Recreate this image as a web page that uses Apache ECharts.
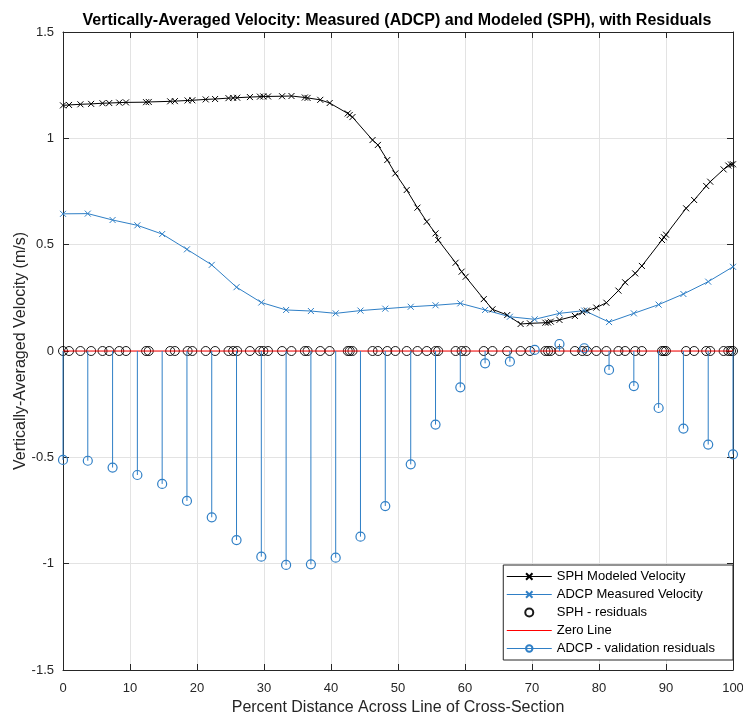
<!DOCTYPE html>
<html>
<head>
<meta charset="utf-8">
<script src="https://cdn.jsdelivr.net/npm/echarts@6/dist/echarts.min.js"></script>
<style>
html,body{margin:0;padding:0;background:#fff;}
#chart{width:743px;height:719px;}
</style>
</head>
<body>
<div id="chart"></div>
<script>
// ---- data ----
const sphX = [0, 0.9, 2.6, 4.2, 5.9, 6.9, 8.4, 9.4, 12.4, 12.8, 16.0, 16.7, 18.6, 19.3, 21.3, 22.7, 24.7, 25.4, 26.0, 27.9,
  29.4, 29.9, 30.6, 32.7, 34.1, 36.1, 36.5, 38.4, 39.8, 42.5, 42.8, 43.2, 46.2, 47.0, 48.4, 49.6, 51.3, 52.9, 54.3, 55.6,
  56.0, 58.6, 59.5, 60.1, 62.8, 64.1, 66.3, 68.3, 69.7, 72.0, 72.4, 72.8, 74.1, 76.4, 77.5, 78.2, 79.6, 81.1, 82.9, 83.9,
  85.4, 86.4, 89.4, 89.7, 90.0, 93.0, 94.2, 96.0, 96.6, 98.6, 99.3, 99.7, 100];
const sphV = [1.155, 1.157, 1.160, 1.162, 1.165, 1.166, 1.168, 1.169, 1.170, 1.171, 1.174, 1.175, 1.178, 1.179, 1.183, 1.185, 1.189, 1.190, 1.191, 1.194,
  1.196, 1.197, 1.197, 1.198, 1.199, 1.192, 1.190, 1.181, 1.166, 1.117, 1.110, 1.100, 0.992, 0.969, 0.898, 0.835, 0.757, 0.674, 0.608, 0.553,
  0.522, 0.415, 0.373, 0.349, 0.244, 0.196, 0.169, 0.127, 0.130, 0.133, 0.134, 0.138, 0.146, 0.165, 0.182, 0.190, 0.204, 0.227, 0.284, 0.323,
  0.365, 0.400, 0.522, 0.535, 0.547, 0.671, 0.710, 0.776, 0.796, 0.854, 0.872, 0.877, 0.878];
const adcpX = [0, 3.7, 7.4, 11.1, 14.8, 18.5, 22.2, 25.9, 29.6, 33.3, 37.0, 40.7, 44.4, 48.1, 51.9, 55.6, 59.3, 63.0, 66.7, 70.4,
  74.1, 77.8, 81.5, 85.2, 88.9, 92.6, 96.3, 100];
const adcpV = [0.645, 0.646, 0.616, 0.591, 0.550, 0.478, 0.405, 0.300, 0.228, 0.193, 0.188, 0.177, 0.190, 0.199, 0.208, 0.215, 0.224, 0.193, 0.161, 0.149,
  0.177, 0.190, 0.136, 0.177, 0.218, 0.268, 0.326, 0.396];
const adcpResid = [-0.512, -0.516, -0.548, -0.583, -0.625, -0.705, -0.782, -0.889, -0.967, -1.006, -1.003, -0.972, -0.873, -0.729, -0.533, -0.346, -0.171, -0.058, -0.050, 0.005,
  0.033, 0.013, -0.089, -0.165, -0.268, -0.365, -0.440, -0.486];
const zeroX = [0, 100];
const zeroV = [0, 0];
const xTicks = [0, 10, 20, 30, 40, 50, 60, 70, 80, 90, 100];
const yTicks = [-1.5, -1, -0.5, 0, 0.5, 1, 1.5];

// ---- build ----
const FONT = 'Liberation Sans, Arial, Helvetica, sans-serif';
const BLUE = '#2f7fc6';
const AX = '#262626';
const GRID = '#e3e3e3';
const xMark = 'path://M0,0L10,10M0,10L10,0';

const sphData = sphX.map((x, i) => [x, sphV[i]]);
const adcpData = adcpX.map((x, i) => [x, adcpV[i]]);
const sphResData = sphX.map(x => [x, 0]);
const zeroData = zeroX.map((x, i) => [x, zeroV[i]]);
const stemData = [];
adcpX.forEach((x, i) => {
  stemData.push({ value: [x, 0], symbol: 'none' });
  stemData.push({ value: [x, adcpResid[i]] });
  stemData.push({ value: [x, '-'], symbol: 'none' });
});

const chart = echarts.init(document.getElementById('chart'), null, { renderer: 'canvas' });
function axisCommon(extra) {
  return Object.assign({
    axisLine: { show: true, onZero: false, lineStyle: { color: AX, width: 1 } },
    axisTick: { show: true, inside: true, length: 6, lineStyle: { color: AX } },
    splitLine: { show: false }
  }, extra);
}
chart.setOption({
  animation: false,
  backgroundColor: '#fff',
  textStyle: { fontFamily: FONT },
  title: {
    text: 'Vertically-Averaged Velocity: Measured (ADCP) and Modeled (SPH), with Residuals',
    left: 392, textAlign: 'center', top: 8,
    textStyle: { fontSize: 16, fontWeight: 'bold', color: '#000', fontFamily: FONT }
  },
  grid: { left: 63, right: 10, top: 32, bottom: 49, containLabel: false, outerBoundsMode: 'none' },
  legend: {
    orient: 'vertical', right: 10, bottom: 59,
    backgroundColor: '#fff', borderColor: AX, borderWidth: 1, borderRadius: 0,
    padding: [5, 18, 5, 3], itemWidth: 45, itemHeight: 8, itemGap: 5,
    textStyle: { fontSize: 13, color: '#000', fontFamily: FONT },
    lineStyle: { width: 1 },
    data: [
      { name: 'SPH Modeled Velocity' },
      { name: 'ADCP Measured Velocity' },
      { name: 'SPH - residuals' },
      { name: 'Zero Line', itemStyle: { opacity: 0 } },
      { name: 'ADCP - validation residuals' }
    ]
  },
  xAxis: [
    axisCommon({
      type: 'value', min: 0, max: 100, interval: 10, position: 'bottom',
      name: 'Percent Distance Across Line of Cross-Section', nameLocation: 'middle', nameGap: 30,
      nameMoveOverlap: false,
      nameTextStyle: { fontSize: 16, color: AX, fontFamily: FONT },
      axisLabel: { show: true, color: AX, fontSize: 13, margin: 12, fontFamily: FONT,
        formatter: v => xTicks.indexOf(v) >= 0 ? String(v) : '' },
      splitLine: { show: true, lineStyle: { color: GRID, width: 1 } }
    }),
    axisCommon({
      type: 'value', min: 0, max: 100, interval: 10, position: 'top',
      axisLabel: { show: false }
    })
  ],
  yAxis: [
    axisCommon({
      type: 'value', min: -1.5, max: 1.5, interval: 0.5, position: 'left',
      name: 'Vertically-Averaged Velocity (m/s)', nameLocation: 'middle', nameGap: 34,
      nameMoveOverlap: false,
      nameTextStyle: { fontSize: 16, color: AX, fontFamily: FONT },
      axisLabel: { show: true, color: AX, fontSize: 13, margin: 9, fontFamily: FONT,
        formatter: v => yTicks.indexOf(v) >= 0 ? String(v) : '' },
      splitLine: { show: true, lineStyle: { color: GRID, width: 1 } }
    }),
    axisCommon({
      type: 'value', min: -1.5, max: 1.5, interval: 0.5, position: 'right',
      axisLabel: { show: false }
    })
  ],
  series: [
    {
      name: 'SPH Modeled Velocity', type: 'line', data: sphData,
      symbol: xMark, symbolSize: 6, showAllSymbol: true,
      lineStyle: { color: '#000', width: 1 },
      itemStyle: { color: '#000', borderColor: '#000', borderWidth: 1 }
    },
    {
      name: 'ADCP Measured Velocity', type: 'line', data: adcpData,
      symbol: xMark, symbolSize: 6, showAllSymbol: true,
      lineStyle: { color: BLUE, width: 1 },
      itemStyle: { color: BLUE, borderColor: BLUE, borderWidth: 1 }
    },
    {
      name: 'SPH - residuals', type: 'scatter', data: sphResData,
      symbol: 'circle', symbolSize: 9,
      itemStyle: { color: 'rgba(0,0,0,0)', borderColor: '#000', borderWidth: 1, opacity: 0.9 }
    },
    {
      name: 'Zero Line', type: 'line', data: zeroData, symbol: 'none',
      lineStyle: { color: '#ff0000', width: 1 },
      itemStyle: { color: '#ff0000' }
    },
    {
      name: 'ADCP - validation residuals', type: 'line', data: stemData,
      symbol: 'circle', symbolSize: 9, showAllSymbol: true, connectNulls: false,
      lineStyle: { color: BLUE, width: 1 },
      itemStyle: { color: 'rgba(0,0,0,0)', borderColor: BLUE, borderWidth: 1.2 }
    }
  ]
});
</script>
</body>
</html>
